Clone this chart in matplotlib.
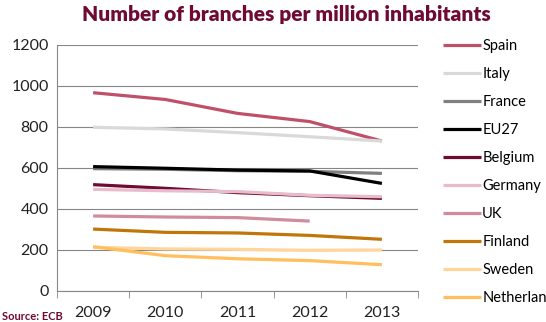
import matplotlib
matplotlib.use("Agg")
import matplotlib.pyplot as plt
import numpy as np

years = ["2009", "2010", "2011", "2012", "2013"]
spain = [967, 934, 866, 826, 731]
italy = [798, 790, 772, 752, 731]
france = [596, 593, 586, 583, 573]
eu27 = [606, 598, 589, 585, 524]
belgium = [518, 500, 479, 464, 451]
germany = [495, 488, 484, 466, 459]
uk = [365, 360, 357, 340]
finland = [301, 285, 282, 270, 251]
sweden = [212, 204, 202, 197, 199]
netherlands = [215, 171, 156, 147, 127]

series = [
    ("Spain", spain, "#C0506A"),
    ("Italy", italy, "#D9D9D9"),
    ("France", france, "#808080"),
    ("EU27", eu27, "#000000"),
    ("Belgium", belgium, "#6E0A34"),
    ("Germany", germany, "#E8BCCB"),
    ("UK", uk, "#D08C9A"),
    ("Finland", finland, "#C0760A"),
    ("Sweden", sweden, "#FFD59A"),
    ("Netherlands", netherlands, "#FFBF5E"),
]

plt.rcParams['font.family'] = ['Lato', 'DejaVu Sans']

fig = plt.figure(figsize=(5.46, 3.22), dpi=100)
ax = fig.add_axes([57/546, 1-290.7/322, (418-57)/546, (290.7-45)/322])

handles = []
for name, vals, col in series:
    x = np.arange(len(vals))
    h, = ax.plot(x, vals, color=col, lw=2.3, label=name, solid_capstyle='butt')
    handles.append(h)

ax.set_xlim(-0.5, 4.5)
ax.set_ylim(0, 1200)
ax.set_yticks(range(0, 1201, 200))
ax.set_xticks(range(5))
ax.set_xticklabels(years)
ax.set_xticks(np.arange(-0.5, 4.6, 1), minor=True)
ax.tick_params(axis='x', which='major', length=0, pad=11, labelsize=11.5, colors='#222222')
ax.tick_params(axis='x', which='minor', length=5, color='#868686', direction='out')
ax.tick_params(axis='y', length=0, pad=6, labelsize=11.5, colors='#222222')
ax.grid(axis='y', color='#868686', lw=0.8)
ax.set_axisbelow(True)
for s in ['top', 'right']:
    ax.spines[s].set_visible(False)
ax.spines['left'].set_color('#868686')
ax.spines['bottom'].set_color('#868686')

fig.text(286/546, 1-15/322, "Number of branches per million inhabitants", ha='center', va='center',
         fontsize=15, fontweight='heavy', color='#6E0A34')
fig.text(2/546, 1-316/322, "Source: ECB", ha='left', va='center', fontsize=8,
         fontweight='bold', color='#6E0A34')

leg = fig.legend(handles=handles, loc='upper left', bbox_to_anchor=(437/546, 1-33/322),
                 frameon=False, fontsize=10.5, handlelength=2.6, handletextpad=0.1,
                 labelspacing=0.96, borderaxespad=0)

fig.savefig("out.png", dpi=100)
